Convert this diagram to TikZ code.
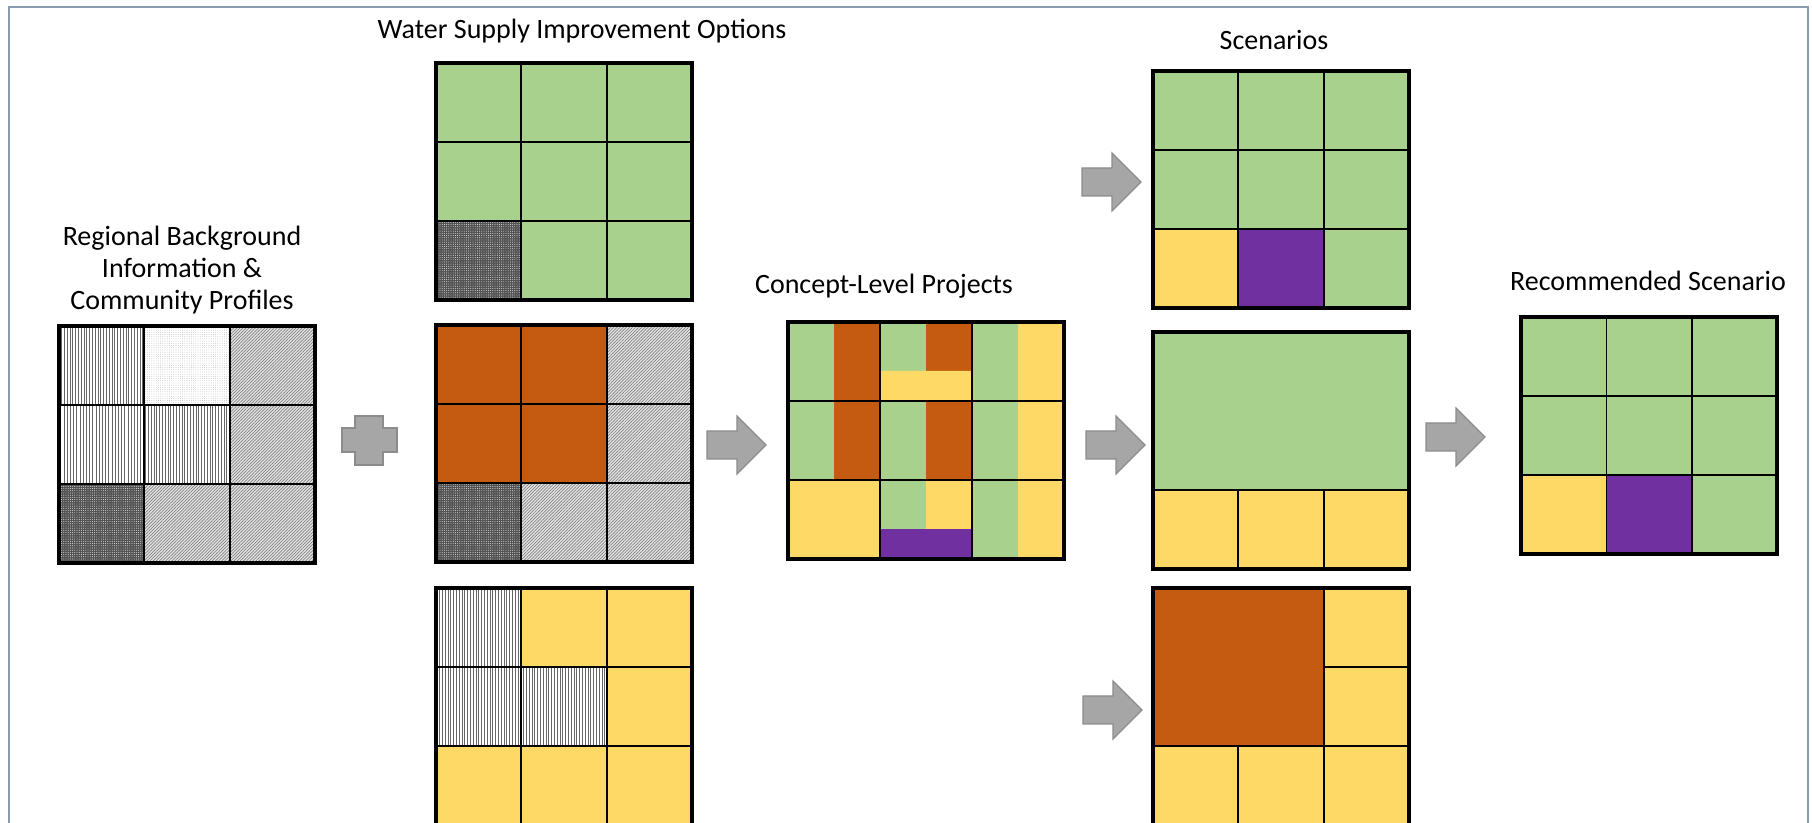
\documentclass[tikz,border=0pt]{standalone}
\usepackage{fontspec}
\setmainfont{Carlito}
\usetikzlibrary{patterns.meta}
\definecolor{leaf}{HTML}{A9D18E}
\definecolor{rust}{HTML}{C55A11}
\definecolor{sand}{HTML}{FFD966}
\definecolor{plum}{HTML}{7030A0}
\definecolor{arrowgray}{HTML}{A6A6A6}
\definecolor{arrowedge}{HTML}{8C8C8C}
\definecolor{framecol}{HTML}{8A9BB0}
\tikzset{
	hatchv/.style={preaction={fill=white},pattern={Lines[angle=90,distance=1.4pt,line width=0.4pt]},pattern color=black!60},
	hatchw/.style={preaction={fill=white},pattern={Lines[angle=90,distance=1.6pt,line width=0.4pt]},pattern color=black!60},
	hatchd/.style={preaction={fill=black!10},pattern={Lines[angle=45,distance=1.1pt,line width=0.35pt]},pattern color=black!50},
	speckle/.style={preaction={fill=white},pattern={Dots[distance=1.1pt,radius=0.18pt]},pattern color=black!35},
	checker/.style={preaction={fill=black!68},pattern={Dots[distance=1.1pt,radius=0.22pt]},pattern color=white},
	gridline/.style={line width=0.85pt},
	gridedge/.style={line width=1.7pt},
	cellsx/.style={x=42.67pt,y=-39.5pt},
	heading/.style={font=\fontsize{14}{16}\selectfont,align=center,inner sep=0pt},
	blockarrow/.pic={\draw[fill=arrowgray,draw=arrowedge,line width=0.6pt](0,-14)--(30,-14)--(30,-29)--(59,0)--(30,29)--(30,14)--(0,14)--cycle;}
}
\newcommand{\gridnine}{%
	\foreach \k in{1,2}{\draw[gridline](\k,0)--(\k,3)(0,\k)--(3,\k);}
	\draw[gridedge](0,0)rectangle(3,3);}
\begin{document}
\begin{tikzpicture}[x=0.5pt,y=-0.5pt]
	\useasboundingbox(0,0)rectangle(1812,823);
	\draw[framecol,line width=1pt](9,830)--(9,7)--(1808,7)--(1808,830);
	% titles
	\node[heading] (tregion) at (182,270) {Regional Background\\Information \&\\Community Profiles};
	\node[heading,anchor=base] (toptions) at (582,39) {Water Supply Improvement Options};
	\node[heading,anchor=base] (tconcept) at (884,294) {Concept-Level Projects};
	\node[heading,anchor=base] (tscen) at (1274,50) {Scenarios};
	\node[heading,anchor=base] (trecom) at (1648,291) {Recommended Scenario};
	% regional background
	\begin{scope}[shift={(59,326)},cellsx]
		\path[hatchv](0,0)rectangle(1,1)(1,1)rectangle(2,2);
		\path[speckle](1,0)rectangle(2,1);
		\path[hatchd](2,0)rectangle(3,3)(1,2)rectangle(2,3);
		\path[hatchw](0,1)rectangle(1,2);
		\path[checker](0,2)rectangle(1,3);
		\gridnine
	\end{scope}
	\draw[fill=arrowgray,draw=arrowedge,line width=0.6pt](355,416)--(383,416)--(383,428)--(397,428)--(397,452)--(383,452)--(383,465)--(355,465)--(355,452)--(342,452)--(342,428)--(355,428)--cycle;
	% options
	\begin{scope}[shift={(436,63)},cellsx]
		\fill[leaf](0,0)rectangle(3,3);
		\path[checker](0,2)rectangle(1,3);
		\gridnine
	\end{scope}
	\begin{scope}[shift={(436,325)},cellsx]
		\fill[rust](0,0)rectangle(2,2);
		\path[hatchd](2,0)rectangle(3,3)(1,2)rectangle(2,3);
		\path[checker](0,2)rectangle(1,3);
		\gridnine
	\end{scope}
	\begin{scope}[shift={(436,588)},cellsx]
		\fill[sand](0,0)rectangle(3,3);
		\path[hatchv](0,0)rectangle(1,2)(1,1)rectangle(2,2);
		\gridnine
	\end{scope}
	\pic at (707,445) {blockarrow};
	% concept-level projects
	\begin{scope}[shift={(788,322)},cellsx,x=46pt]
		\fill[leaf](0,0)rectangle(3,3);
		\fill[rust](.5,0)rectangle(1,2)(1.5,0)rectangle(2,2);
		\fill[sand](0,2)rectangle(1,3)(1,.62)rectangle(2,1)(1.5,2)rectangle(2,2.62)(2.5,0)rectangle(3,3);
		\fill[plum](1,2.62)rectangle(2,3);
		\gridnine
	\end{scope}
	\pic at (1082,182) {blockarrow};
	\pic at (1086,445) {blockarrow};
	\pic at (1083,710) {blockarrow};
	% scenarios
	\begin{scope}[shift={(1153,71)},cellsx]
		\fill[leaf](0,0)rectangle(3,3);
		\fill[sand](0,2)rectangle(1,3);
		\fill[plum](1,2)rectangle(2,3);
		\gridnine
	\end{scope}
	\begin{scope}[shift={(1153,332)},cellsx]
		\fill[leaf](0,0)rectangle(3,2);
		\fill[sand](0,2)rectangle(3,3);
		\draw[gridline](0,2)--(3,2)(1,2)--(1,3)(2,2)--(2,3);
		\draw[gridedge](0,0)rectangle(3,3);
	\end{scope}
	\begin{scope}[shift={(1153,588)},cellsx]
		\fill[sand](0,0)rectangle(3,3);
		\fill[rust](0,0)rectangle(2,2);
		\draw[gridline](2,0)--(2,3)(1,2)--(1,3)(0,2)--(3,2)(2,1)--(3,1);
		\draw[gridedge](0,0)rectangle(3,3);
	\end{scope}
	\pic at (1426,437) {blockarrow};
	% recommended
	\begin{scope}[shift={(1521,317)},cellsx]
		\fill[leaf](0,0)rectangle(3,3);
		\fill[sand](0,2)rectangle(1,3);
		\fill[plum](1,2)rectangle(2,3);
		\gridnine
	\end{scope}
\end{tikzpicture}
\end{document}
